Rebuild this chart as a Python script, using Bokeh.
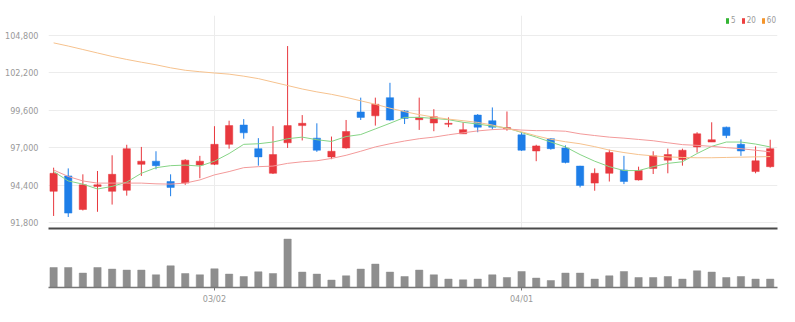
from bokeh.plotting import figure
from bokeh.layouts import column
from bokeh.models import (ColumnDataSource, Range1d, FixedTicker, NumeralTickFormatter,
                          Legend, LegendItem)
from bokeh.embed import file_html
from bokeh.resources import INLINE

# ---------------- data ----------------
opens = [93970, 95040, 92710, 94310, 93970, 94040, 95840, 96060, 94650, 94540,
         95790, 95840, 97230, 98570, 96930, 95220, 97340, 98530, 97660, 96360,
         96980, 99480, 99210, 100470, 99550, 98940, 98710, 98620, 97960, 99260,
         98870, 98300, 97890, 96770, 97620, 96980, 95720, 94540, 95220, 95450,
         94760, 95560, 96130, 96180, 97050, 97390, 98420, 97230, 95340, 95680]
highs = [95610, 95560, 95150, 95380, 96470, 97200, 97050, 96750, 95150, 96200,
         96430, 98490, 98870, 98980, 97660, 98490, 104050, 99260, 98690, 97770,
         98920, 100470, 100470, 101500, 99600, 100470, 99670, 99100, 98760, 99330,
         99790, 99510, 98070, 97200, 97660, 97160, 95740, 95560, 96860, 96430,
         95680, 96750, 96930, 96930, 98070, 98760, 98460, 97570, 97090, 97550]
lows = [92260, 92190, 92640, 92550, 93050, 93670, 95040, 95500, 93630, 94420,
        94880, 95790, 96930, 97620, 95750, 95170, 96980, 97500, 96710, 96200,
        96930, 98920, 98530, 98870, 98640, 98230, 98140, 98420, 97960, 98070,
        98250, 98180, 96770, 96060, 96860, 95910, 94240, 94010, 94650, 94470,
        94720, 95170, 95220, 95750, 96660, 97390, 97660, 96430, 95220, 95610]
closes = [95220, 92460, 94420, 94420, 95150, 96930, 96060, 95750, 94240, 96130,
          96060, 97230, 98530, 98030, 96360, 96520, 98530, 98690, 96820, 96750,
          98120, 99100, 100010, 98920, 99030, 99100, 99140, 98690, 98250, 98420,
          98420, 98390, 96820, 97120, 96930, 95970, 94380, 95220, 96660, 94650,
          95410, 96430, 96520, 96820, 97960, 97550, 97840, 96770, 96090, 96930]
volumes = [200000, 200000, 144000, 200000, 184000, 174000, 174000, 127000, 217000, 140000,
           127000, 187000, 134000, 110000, 157000, 140000, 484000, 154000, 134000, 74000,
           117000, 184000, 234000, 154000, 110000, 174000, 127000, 84000, 77000, 84000,
           127000, 100000, 160000, 94000, 70000, 144000, 144000, 84000, 117000, 160000,
           100000, 100000, 110000, 84000, 167000, 154000, 100000, 110000, 84000, 84000]
ma5 = [95340, 94690, 94470, 94130, 94310, 94610, 95220, 95610, 95750, 95790,
       95720, 96060, 96590, 97230, 97270, 97390, 97620, 97730, 97550, 97430,
       97770, 97910, 98300, 98690, 99100, 99100, 99030, 98940, 98760, 98640,
       98490, 98370, 98050, 97730, 97390, 97050, 96520, 96060, 95680, 95410,
       95410, 95680, 95910, 96020, 96590, 97090, 97390, 97390, 97250, 97050]
ma20 = [95450, 95000, 94690, 94540, 94540, 94540, 94540, 94490, 94470, 94540,
        94760, 95110, 95340, 95610, 95680, 95720, 95910, 96020, 96090, 96250,
        96470, 96750, 97050, 97270, 97460, 97620, 97730, 97890, 98030, 98160,
        98250, 98300, 98220, 98180, 98180, 98140, 97960, 97840, 97730, 97660,
        97570, 97480, 97340, 97210, 97160, 97090, 97000, 96930, 96820, 96710]
ma60 = [104270, 104050, 103810, 103570, 103330, 103120, 102930, 102750, 102540, 102370,
        102270, 102180, 102100, 101960, 101790, 101550, 101310, 101070, 100870, 100700,
        100490, 100250, 100010, 99740, 99500, 99290, 99120, 98980, 98870, 98750,
        98570, 98330, 98100, 97820, 97580, 97410, 97270, 97070, 96830, 96660,
        96520, 96430, 96360, 96320, 96300, 96300, 96320, 96340, 96360, 96380]
price_ticks = [91800, 94400, 97000, 99600, 102200, 104800]
date_tick_positions = [11, 32]
date_tick_labels = ["03/02", "04/01"]
ma_names = ["5", "20", "60"]

# ---------------- styles ----------------
UP = "#e8383e"
DOWN = "#1e7ee8"
MA_LINE_COLORS = ["#86d486", "#f39a9a", "#f6c28e"]
MA_LEGEND_COLORS = ["#34b534", "#ee4040", "#f5952a"]
FONT = "DejaVu Sans Condensed"
GRID = "#ececec"
NAN = float("nan")

n = len(opens)
idx = list(range(n))
up = [c >= o for o, c in zip(opens, closes)]
colors = [UP if u else DOWN for u in up]
src = ColumnDataSource(dict(
    x=idx, o=opens, h=highs, l=lows, c=closes,
    top=[max(o, c) for o, c in zip(opens, closes)],
    bot=[min(o, c) for o, c in zip(opens, closes)],
    color=colors, vol=volumes, ma5=ma5, ma20=ma20, ma60=ma60))

xr = Range1d(-0.35, n - 0.5)

# ---------------- price chart ----------------
p = figure(width=795, height=234, x_range=xr, y_range=Range1d(91390, 106170),
           output_backend="svg", toolbar_location=None,
           min_border_left=48, min_border_right=18, min_border_top=15, min_border_bottom=3)
p.outline_line_color = None
p.background_fill_color = "white"

p.segment(x0="x", y0="l", x1="x", y1="h", color="color", line_width=1, source=src)
p.vbar(x="x", width=0.5, top="top", bottom="bot", fill_color="color",
       line_color="color", line_width=0.5, source=src)

ma_cols = ["ma5", "ma20", "ma60"]
for col, clr in zip(ma_cols, MA_LINE_COLORS):
    p.line("x", col, source=src, line_color=clr, line_width=1.0)

items = []
for name, clr in zip(ma_names, MA_LEGEND_COLORS):
    r = p.vbar(x=[NAN], top=[NAN], bottom=[NAN], width=0.5, fill_color=clr, line_color=None)
    items.append(LegendItem(label=name, renderers=[r]))
leg = Legend(items=items, orientation="horizontal", location="top_right",
             border_line_color=None, background_fill_alpha=0,
             label_text_font=FONT, label_text_font_size="8px", label_text_color="#999999",
             glyph_width=4, glyph_height=7, label_standoff=2, spacing=5,
             label_width=4, padding=0, margin=1, label_height=8)
p.add_layout(leg)

p.yaxis.ticker = FixedTicker(ticks=price_ticks)
p.yaxis.formatter = NumeralTickFormatter(format="0,0")
p.yaxis.axis_line_color = None
p.yaxis.major_tick_line_color = None
p.yaxis.minor_tick_line_color = None
p.yaxis.major_label_text_font = FONT
p.yaxis.major_label_text_font_size = "9px"
p.yaxis.major_label_text_color = "#999999"
p.yaxis.major_label_standoff = 4

p.xaxis.ticker = FixedTicker(ticks=date_tick_positions)
p.xaxis.major_label_overrides = {t: "" for t in date_tick_positions}
p.xaxis.major_label_standoff = 0
p.xaxis.major_tick_line_color = None
p.xaxis.minor_tick_line_color = None
p.xaxis.axis_line_color = "#4a4a4a"
p.xaxis.axis_line_width = 2

p.ygrid.ticker = FixedTicker(ticks=price_ticks)
p.ygrid.grid_line_color = GRID
p.xgrid.ticker = FixedTicker(ticks=date_tick_positions)
p.xgrid.grid_line_color = GRID

# ---------------- volume chart ----------------
v = figure(width=795, height=88, x_range=xr, y_range=Range1d(0, 530000),
           output_backend="svg", toolbar_location=None,
           min_border_left=48, min_border_right=18, min_border_top=0, min_border_bottom=35)
v.outline_line_color = None
v.vbar(x="x", width=0.5, top="vol", bottom=0, fill_color="#8e8e8e",
       line_color="#8e8e8e", line_width=0.5, source=src)
v.xgrid.grid_line_color = None
v.ygrid.grid_line_color = None
v.yaxis.visible = False
v.xaxis.ticker = FixedTicker(ticks=date_tick_positions)
v.xaxis.major_label_overrides = {t: s for t, s in zip(date_tick_positions, date_tick_labels)}
v.xaxis.axis_line_color = "#777777"
v.xaxis.axis_line_width = 1.5
v.xaxis.major_tick_line_color = "#777777"
v.xaxis.major_tick_out = 3
v.xaxis.major_tick_in = 0
v.xaxis.minor_tick_line_color = None
v.xaxis.major_label_text_font = FONT
v.xaxis.major_label_text_font_size = "9px"
v.xaxis.major_label_text_color = "#999999"
v.xaxis.major_label_standoff = 3

layout = column(p, v, spacing=0)
open("out.html", "w").write(file_html(layout, INLINE))
